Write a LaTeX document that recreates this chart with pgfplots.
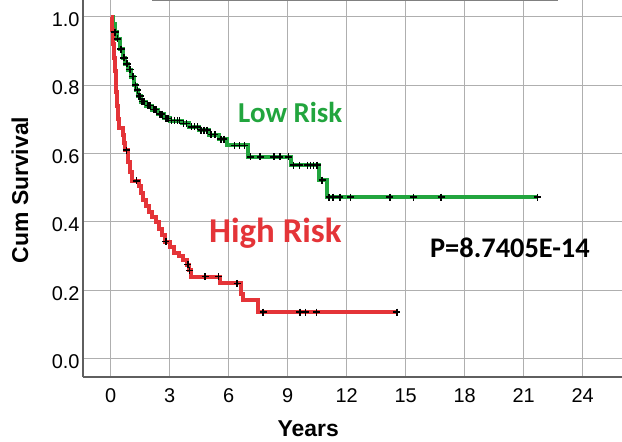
\documentclass[border=0pt]{standalone}
\usepackage{pgfplots}
\pgfplotsset{compat=1.18}
\usepackage{fontspec}
\setmainfont{Liberation Sans}
\newfontfamily\calfont{Carlito}
\definecolor{kmgreen}{RGB}{34,165,62}
\definecolor{kmred}{RGB}{228,52,56}
\definecolor{gridgray}{RGB}{175,175,175}
\definecolor{axgray}{RGB}{95,95,95}
\begin{document}
\begin{tikzpicture}
\begin{axis}[
  at={(83bp,65bp)}, anchor=south west,
  scale only axis, width=539bp, height=377bp,
  xmin=-1.41, xmax=26, ymin=-0.054, ymax=1.049,
  axis x line*=bottom, axis y line*=left,
  axis line style={-, draw=axgray, line width=1.4bp},
  xtick={0,3,...,24}, ytick={0,0.2,0.4,0.6,0.8,1.0},
  major tick length=0pt,
  grid=major,
  major grid style={draw=gridgray, line width=0.9bp},
  /pgf/number format/assume math mode=true,
  yticklabel style={/pgf/number format/fixed, /pgf/number format/fixed zerofill, /pgf/number format/precision=1, yshift=-3bp},
  xticklabel style={yshift=-8bp},
  ticklabel style={font=\fontsize{20}{24}\selectfont},
  xlabel={\bfseries Years},
  ylabel={\bfseries Cum Survival},
  label style={font=\fontsize{23}{26}\selectfont},
  xlabel style={at={(axis description cs:0.418,-0.159)}, anchor=base},
  ylabel style={at={(axis description cs:-0.102,0.496)}, anchor=base, rotate=0},
  clip=false,
]
% Low risk
\addplot[const plot, draw=kmgreen, line width=4bp] coordinates {
(0,1.0) (0.1,0.98) (0.2,0.955) (0.3,0.935) (0.45,0.905) (0.6,0.88) (0.75,0.862)
(0.9,0.845) (1.05,0.825) (1.2,0.80) (1.3,0.785) (1.4,0.768) (1.55,0.752) (1.8,0.74)
(2.1,0.728) (2.4,0.715) (2.7,0.703) (3.0,0.696) (3.6,0.688) (4.0,0.678) (4.5,0.668)
(5.0,0.655) (5.5,0.642) (5.9,0.624) (7.0,0.59) (9.15,0.566) (10.6,0.522) (11.0,0.472) (21.7,0.472)
};
% High risk
\addplot[const plot, draw=kmred, line width=4bp] coordinates {
(0,1.0) (0.08,0.96) (0.13,0.92) (0.17,0.88) (0.21,0.84) (0.25,0.81) (0.29,0.78)
(0.33,0.74) (0.37,0.70) (0.40,0.675) (0.6,0.655) (0.7,0.63) (0.75,0.61) (0.9,0.575)
(1.0,0.545) (1.07,0.52) (1.45,0.505) (1.55,0.485) (1.65,0.465) (1.8,0.445) (1.95,0.43)
(2.1,0.415) (2.3,0.40) (2.45,0.38) (2.6,0.36) (2.75,0.342) (3.0,0.325) (3.2,0.31)
(3.45,0.30) (3.7,0.288) (3.9,0.275) (3.97,0.258) (4.1,0.24) (5.55,0.22) (6.6,0.19)
(6.75,0.17) (7.5,0.136) (14.55,0.136)
};
% censored low
\addplot[only marks, mark=+, mark size=3.5bp, mark options={draw=black, line width=1.5bp}] coordinates {
(0.2,0.955) (0.25,0.955) (0.35,0.935) (0.5,0.905) (0.55,0.905) (0.65,0.88) (0.7,0.88)
(0.8,0.862) (0.85,0.862) (0.95,0.845) (1.0,0.845) (1.1,0.825) (1.15,0.825) (1.25,0.80)
(1.35,0.785) (1.45,0.768) (1.5,0.768) (1.6,0.752) (1.7,0.752) (1.9,0.74) (2.0,0.74)
(2.2,0.728) (2.3,0.728) (2.5,0.715) (2.6,0.715) (2.8,0.703) (2.9,0.703) (3.1,0.696)
(3.25,0.696) (3.4,0.696) (3.5,0.696) (3.7,0.688) (3.85,0.688) (4.1,0.678) (4.25,0.678)
(4.4,0.678) (4.6,0.668) (4.75,0.668) (4.9,0.668) (5.1,0.655) (5.3,0.655) (5.6,0.642)
(5.75,0.642) (6.3,0.624) (6.55,0.624) (6.8,0.624) (7.1,0.59) (7.6,0.59) (8.3,0.59)
(8.6,0.59) (9.05,0.59) (9.3,0.566) (9.6,0.566) (10.0,0.566) (10.15,0.566) (10.3,0.566)
(10.5,0.566) (10.75,0.522) (11.1,0.472) (11.3,0.472) (11.65,0.472) (12.2,0.472)
(14.2,0.472) (15.4,0.472) (16.8,0.472) (21.7,0.472)
};
% censored high
\addplot[only marks, mark=+, mark size=3.5bp, mark options={draw=black, line width=1.5bp}] coordinates {
(0.81,0.61) (1.32,0.52) (2.81,0.342) (3.92,0.275) (4.0,0.258) (4.8,0.24) (5.47,0.24)
(6.43,0.22) (7.75,0.136) (9.62,0.136) (9.9,0.136) (10.47,0.136) (14.55,0.136)
};
\node[anchor=base, text=kmgreen, font=\calfont\bfseries\fontsize{29}{31}\selectfont] at (axis cs:9.13,0.692) {Low Risk};
\node[anchor=base, text=kmred, font=\calfont\bfseries\fontsize{35}{37}\selectfont] at (axis cs:8.37,0.340) {High Risk};
\node[anchor=base, text=black, font=\calfont\bfseries\fontsize{28.5}{30}\selectfont] at (axis cs:20.3,0.297) {P=8.7405E-14};
\end{axis}
\draw[draw=gray, line width=1bp] (152bp,441.5bp) -- (558bp,441.5bp);
\pgfresetboundingbox
\useasboundingbox (0,0) rectangle (622bp,442bp);
\end{tikzpicture}
\end{document}
